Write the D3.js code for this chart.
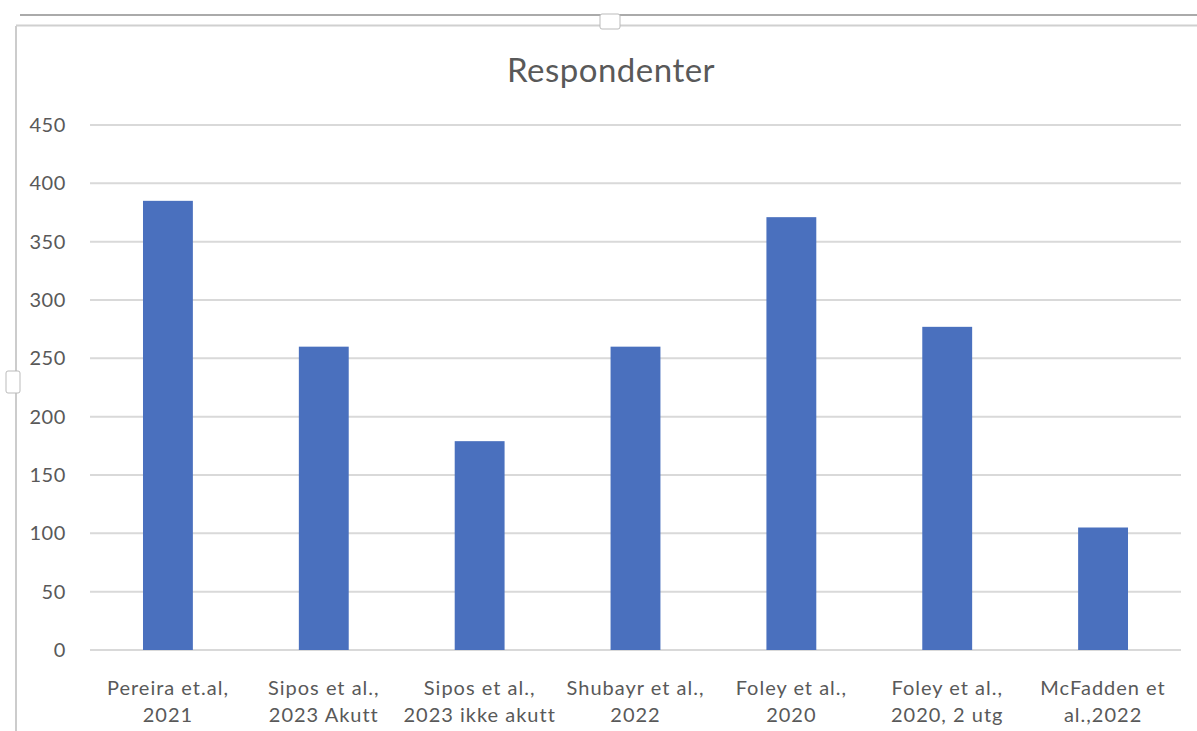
<!DOCTYPE html>
<html>
<head>
<meta charset="utf-8">
<script src="https://cdn.jsdelivr.net/npm/d3@7"></script>
<style>
  body { margin: 0; background: #fff; }
  text { font-family: Lato, "Open Sans", sans-serif; fill: #595959; }
</style>
</head>
<body>
<script>
var categories = [
  ["Pereira et.al,", "2021"],
  ["Sipos et al.,", "2023 Akutt"],
  ["Sipos et al.,", "2023 ikke akutt"],
  ["Shubayr et al.,", "2022"],
  ["Foley et al.,", "2020"],
  ["Foley et al.,", "2020, 2 utg"],
  ["McFadden et", "al.,2022"]
];
var values = [385, 260, 179, 260, 371, 277, 105];
var yTicks = [0, 50, 100, 150, 200, 250, 300, 350, 400, 450];
var title = "Respondenter";

var W = 1197, H = 731;
var margin = { top: 125, right: 16, bottom: 81, left: 90 },
  width = W - margin.left - margin.right,
  height = H - margin.top - margin.bottom;

var svg = d3.select("body").append("svg")
  .attr("width", W)
  .attr("height", H);

// selection frame from the spreadsheet window
var frame = svg.append("g");
frame.append("line").attr("x1", 20).attr("x2", W).attr("y1", 15).attr("y2", 15)
  .attr("stroke", "#aaaaaa").attr("stroke-width", 2);
frame.append("line").attr("x1", 16).attr("x2", W).attr("y1", 25.5).attr("y2", 25.5)
  .attr("stroke", "#d0d0d0").attr("stroke-width", 2);
frame.append("line").attr("x1", 16).attr("x2", 16).attr("y1", 26).attr("y2", H)
  .attr("stroke", "#cccccc").attr("stroke-width", 2);
frame.append("rect").attr("x", 600).attr("y", 14).attr("width", 20).attr("height", 15)
  .attr("fill", "#fff").attr("stroke", "#bbbbbb").attr("rx", 2);
frame.append("rect").attr("x", 6).attr("y", 371).attr("width", 14).attr("height", 22)
  .attr("fill", "#fff").attr("stroke", "#bbbbbb").attr("rx", 2);

var x = d3.scaleBand()
  .domain(d3.range(categories.length))
  .range([0, width])
  .paddingInner(0.68)
  .paddingOuter(0.34);

var y = d3.scaleLinear()
  .domain([0, 450])
  .range([height, 0]);

var g = svg.append("g")
  .attr("transform", "translate(" + margin.left + "," + margin.top + ")");

svg.append("text")
  .attr("x", 611)
  .attr("y", 82)
  .attr("text-anchor", "middle")
  .style("font-size", "33px")
  .style("letter-spacing", "0.5px")
  .text(title);

// gridlines
g.selectAll(".grid")
  .data(yTicks)
  .enter().append("line")
  .attr("class", "grid")
  .attr("x1", 0)
  .attr("x2", width)
  .attr("y1", function(d) { return y(d); })
  .attr("y2", function(d) { return y(d); })
  .attr("stroke", "#d9d9d9")
  .attr("stroke-width", 2);

var yAxis = g.append("g")
  .call(d3.axisLeft(y).tickValues(yTicks).tickSize(0).tickPadding(24));
yAxis.select(".domain").remove();
yAxis.selectAll("text")
  .style("font-size", "20px")
  .style("font-family", "Lato, sans-serif")
  .style("letter-spacing", "0.6px")
  .attr("fill", "#595959");

g.selectAll(".bar")
  .data(values)
  .enter().append("rect")
  .attr("class", "bar")
  .attr("x", function(d, i) { return x(i); })
  .attr("width", x.bandwidth())
  .attr("y", function(d) { return y(d); })
  .attr("height", function(d) { return height - y(d); })
  .attr("fill", "#4a70be");

var labels = g.selectAll(".cat")
  .data(categories)
  .enter().append("text")
  .attr("class", "cat")
  .attr("text-anchor", "middle")
  .style("font-size", "20px")
  .style("letter-spacing", "1px")
  .attr("transform", function(d, i) {
    return "translate(" + (x(i) + x.bandwidth() / 2) + "," + (height + 45) + ")";
  });
labels.selectAll("tspan")
  .data(function(d) { return d; })
  .enter().append("tspan")
  .attr("x", 0)
  .attr("dy", function(d, i) { return i ? 27 : 0; })
  .text(function(d) { return d; });
</script>
</body>
</html>
